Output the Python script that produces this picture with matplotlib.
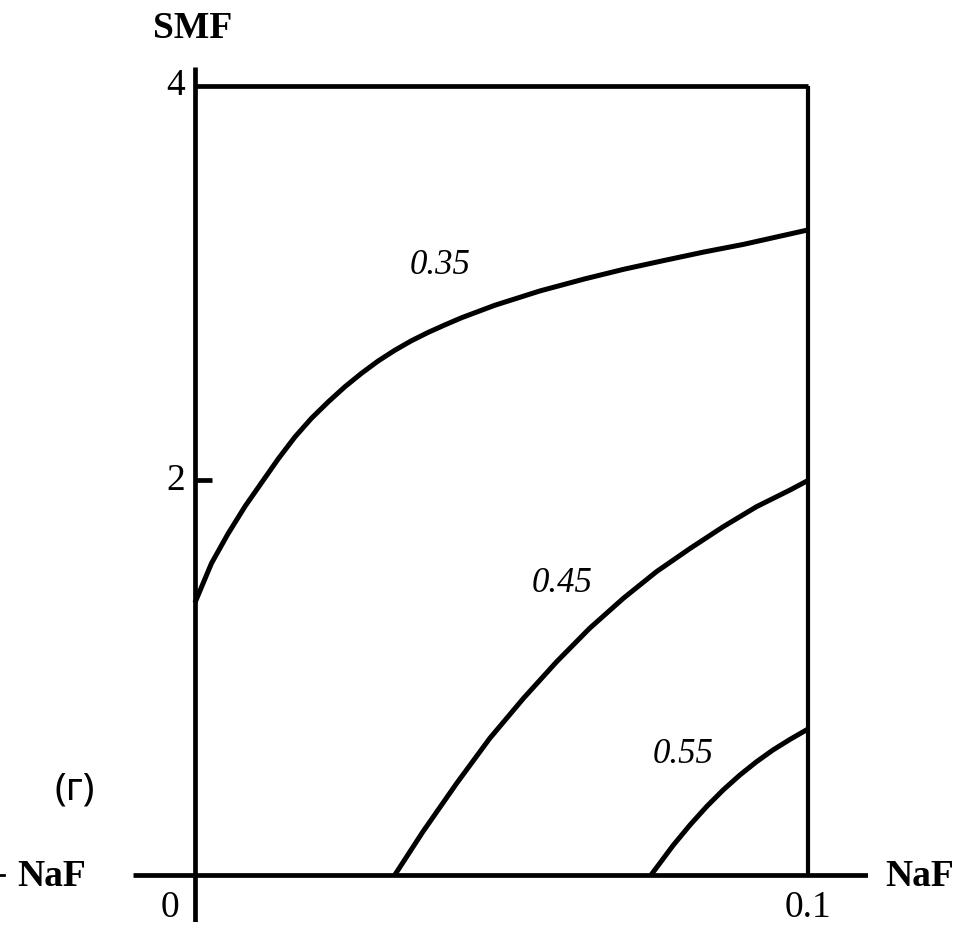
import matplotlib
matplotlib.use("Agg")
import matplotlib.pyplot as plt
import numpy as np

# contour lines (x = NaF, y = SMF)
x035 = [0.0, 0.0027, 0.0054, 0.0082, 0.0109, 0.0136, 0.0163, 0.0190, 0.0218, 0.0245,
        0.0272, 0.0299, 0.0326, 0.0353, 0.0380, 0.0408, 0.0435, 0.0489, 0.0563,
        0.0636, 0.0700, 0.0765, 0.0830, 0.0895, 0.1]
y035 = [1.38, 1.58, 1.73, 1.87, 1.99, 2.11, 2.22, 2.315, 2.40, 2.476,
        2.544, 2.606, 2.660, 2.708, 2.750, 2.789, 2.825, 2.888, 2.961,
        3.022, 3.071, 3.115, 3.158, 3.197, 3.27]
x045 = [0.0326, 0.0372, 0.0427, 0.0481, 0.0536, 0.0590, 0.0644, 0.0699, 0.0753,
        0.0808, 0.0862, 0.0916, 0.0971, 0.1]
y045 = [0.0, 0.22, 0.465, 0.693, 0.896, 1.081, 1.251, 1.403, 1.538,
        1.656, 1.766, 1.867, 1.952, 2.0]
x055 = [0.0744, 0.0780, 0.0808, 0.0835, 0.0862, 0.0889, 0.0916, 0.0943, 0.0971, 0.1]
y055 = [0.0, 0.150, 0.255, 0.348, 0.432, 0.507, 0.574, 0.634, 0.688, 0.74]

curve_labels = ["0.35", "0.45", "0.55"]
label_pos = [(0.0400, 3.09), (0.0599, 1.48), (0.0796, 0.61)]

yticks = [2, 4]
xticks = [0, 0.1]
xtick_labels = ["0", "0.1"]

W, H = 960, 927
fig = plt.figure(figsize=(W / 100, H / 100), dpi=100)
# axes spans pixel box x 133..868, y 67..922
ax = fig.add_axes([133 / W, 1 - 922 / H, (868 - 133) / W, (922 - 67) / H])
ax.set_xlim(-0.0101, 0.1098)
ax.set_ylim(-0.238, 4.096)
ax.axis("off")

lw = 3.4
# axes lines
ax.plot([-0.0101, 0.1098], [0, 0], color="black", lw=lw, solid_capstyle="butt")
ax.plot([0, 0], [-0.238, 4.096], color="black", lw=lw, solid_capstyle="butt")
# frame
ax.plot([0, 0.1], [4, 4], color="black", lw=lw, solid_capstyle="butt")
ax.plot([0.1, 0.1], [0, 4], color="black", lw=3.0, solid_capstyle="butt")
# tick at 2
ax.plot([0, 0.0028], [2, 2], color="black", lw=lw, solid_capstyle="butt")

for xs, ys in [(x035, y035), (x045, y045), (x055, y055)]:
    ax.plot(xs, ys, color="black", lw=3.6, solid_capstyle="butt", solid_joinstyle="round")

serif = "Liberation Serif"
for lab, (lx, ly) in zip(curve_labels, label_pos):
    ax.text(lx, ly, lab, fontsize=25, family=serif, style="italic",
            ha="center", va="center")

for t in yticks:
    ax.text(-0.0016, t, str(t), fontsize=27, family=serif, ha="right", va="center")
for t, s in zip(xticks, xtick_labels):
    ax.text(t - 0.0041 if t == 0 else t, -0.165, s, fontsize=27, family=serif,
            ha="center", va="center")


def ftext(px, py, s, **kw):
    fig.text(px / W, 1 - py / H, s, **kw)


ftext(193, 29, "SMF", fontsize=27, family=serif, weight="bold", ha="center", va="center")
ftext(920, 877, "NaF", fontsize=27, family=serif, weight="bold", ha="center", va="center")
ftext(52, 877, "NaF", fontsize=27, family=serif, weight="bold", ha="center", va="center")
ftext(75, 790, "(г)", fontsize=28, family="Noto Sans", ha="center", va="center")
# small piece of arrow cut by the left edge
fig.add_artist(plt.Line2D([0, 4 / W], [1 - 875 / H, 1 - 875 / H], color="black", lw=2))

fig.savefig("out.png", dpi=100, facecolor="white")
